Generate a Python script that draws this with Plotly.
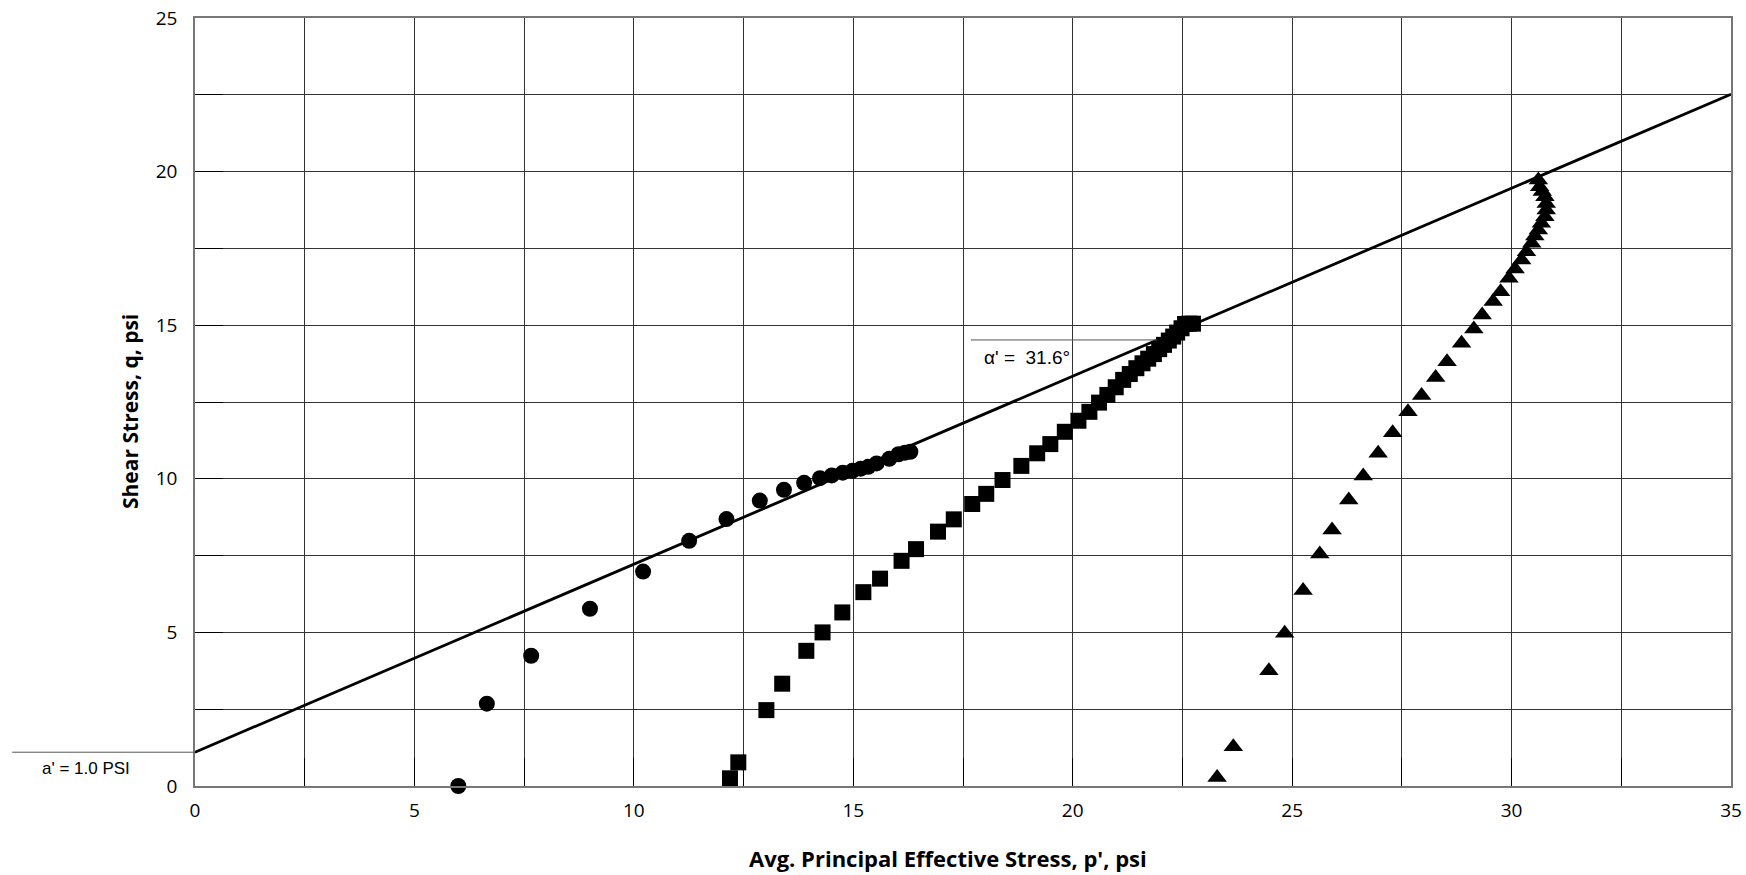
import plotly.graph_objects as go

# Series 1 (circles)
circ_p = [6.00, 6.65, 7.66, 9.00, 10.21, 11.26, 12.11, 12.87, 13.42, 13.88, 14.24, 14.51, 14.76,
          14.98, 15.17, 15.34, 15.53, 15.82, 16.03, 16.18, 16.30]
circ_q = [0.00, 2.68, 4.24, 5.77, 6.98, 7.98, 8.69, 9.29, 9.64, 9.87, 10.02, 10.11, 10.20,
          10.26, 10.33, 10.39, 10.50, 10.65, 10.80, 10.85, 10.88]

# Series 2 (squares)
sq_p = [12.19, 12.38, 13.02, 13.38, 13.93, 14.30, 14.75, 15.23, 15.61, 16.10, 16.43, 16.93, 17.29,
        17.71, 18.03, 18.40, 18.83, 19.19, 19.49, 19.82, 20.13, 20.38, 20.60, 20.79, 20.98, 21.15,
        21.30, 21.45, 21.59, 21.72, 21.85, 21.97, 22.08, 22.19, 22.29, 22.38, 22.48, 22.56, 22.65, 22.74]
sq_q = [0.25, 0.77, 2.47, 3.33, 4.40, 5.00, 5.65, 6.31, 6.75, 7.33, 7.71, 8.28, 8.68,
        9.18, 9.51, 9.96, 10.42, 10.83, 11.13, 11.53, 11.89, 12.18, 12.48, 12.73, 12.98, 13.22,
        13.41, 13.60, 13.76, 13.91, 14.06, 14.22, 14.36, 14.50, 14.63, 14.76, 14.90, 15.04, 15.05, 15.05]

# Series 3 (triangles)
tri_p = [23.29, 23.66, 24.47, 24.83, 25.25, 25.63, 25.91, 26.29, 26.62, 26.96, 27.29, 27.64, 27.95,
         28.27, 28.53, 28.86, 29.14, 29.33, 29.58, 29.75, 29.94, 30.08, 30.23, 30.34, 30.46, 30.53,
         30.61, 30.68, 30.76, 30.79, 30.79, 30.76, 30.70, 30.64, 30.61]
tri_q = [0.28, 1.28, 3.75, 4.97, 6.36, 7.55, 8.33, 9.31, 10.09, 10.83, 11.50, 12.18, 12.71,
         13.30, 13.81, 14.41, 14.88, 15.33, 15.77, 16.09, 16.53, 16.83, 17.12, 17.39, 17.67, 17.90,
         18.10, 18.32, 18.53, 18.75, 18.96, 19.18, 19.35, 19.51, 19.73]

# Failure envelope
fit_intercept = 1.1
fit_slope = 0.612
fit_p = [0, 35]
fit_q = [fit_intercept + fit_slope * p for p in fit_p]
alpha_label_q = 14.52

x_ticks = [i * 2.5 for i in range(15)]
y_ticks = [i * 2.5 for i in range(11)]
x_text = [str(int(v)) if v % 5 == 0 else "" for v in x_ticks]
y_text = [str(int(v)) if v % 5 == 0 else "" for v in y_ticks]

FONT = "'Open Sans', 'Noto Sans', sans-serif"
NARROW = "'Liberation Sans', Arial, sans-serif"

fig = go.Figure()
fig.add_trace(go.Scatter(x=fit_p, y=fit_q, mode="lines", line=dict(color="black", width=2.8),
                         showlegend=False, hoverinfo="skip"))
fig.add_trace(go.Scatter(x=circ_p, y=circ_q, mode="markers",
                         marker=dict(symbol="circle", size=16, color="black"), cliponaxis=False, showlegend=False))
fig.add_trace(go.Scatter(x=sq_p, y=sq_q, mode="markers",
                         marker=dict(symbol="square", size=16, color="black"), cliponaxis=False, showlegend=False))
fig.add_trace(go.Scatter(x=tri_p, y=tri_q, mode="markers",
                         marker=dict(symbol="triangle-up", size=17, color="black"), cliponaxis=False, showlegend=False))

axis_common = dict(showgrid=True, gridcolor="#333", gridwidth=1, zeroline=False,
                   showline=True, linecolor="#777", linewidth=1.5, mirror=True,
                   ticks="inside", ticklen=28, tickcolor="black", tickwidth=1,
                   tickfont=dict(family=FONT, size=19, color="black"), tickmode="array",
                   automargin=False)

fig.update_xaxes(range=[0, 35], tickvals=x_ticks, ticktext=x_text, ticklabelstandoff=6, **axis_common)
fig.update_yaxes(range=[0, 25], tickvals=y_ticks, ticktext=y_text, ticklabelstandoff=12, **axis_common)

fig.add_shape(type="line", xref="paper", yref="y", x0=-0.119, x1=0, y0=fit_intercept, y1=fit_intercept,
              line=dict(color="#555", width=1))
fig.add_shape(type="line", xref="x", yref="y", x0=17.68, x1=(alpha_label_q - fit_intercept) / fit_slope,
              y0=alpha_label_q, y1=alpha_label_q, line=dict(color="#555", width=1))

fig.add_annotation(text="a' = 1.0 PSI", xref="paper", yref="y", x=(86 - 195) / 1536, y=fit_intercept,
                   xanchor="center", yanchor="middle", yshift=-16, showarrow=False,
                   font=dict(family=NARROW, size=17, color="black"))
fig.add_annotation(text="α' =  31.6°", xref="x", yref="y", x=18.96, y=alpha_label_q,
                   xanchor="center", yanchor="middle", yshift=-18, showarrow=False,
                   font=dict(family=NARROW, size=19, color="black"))

fig.add_annotation(text="<b>Avg. Principal Effective Stress, p', psi</b>", xref="paper", yref="paper",
                   x=(948 - 195) / 1536, y=0, xanchor="center", yanchor="middle", yshift=-72, showarrow=False,
                   font=dict(family=FONT, size=22, color="black"))
fig.add_annotation(text="<b>Shear Stress, q, psi</b>", xref="paper", yref="paper", textangle=-90,
                   x=0, xshift=-65, y=(786 - 412) / 768, xanchor="center", yanchor="middle", showarrow=False,
                   font=dict(family=FONT, size=21, color="black"))

fig.update_layout(width=1746, height=875, margin=dict(l=195, r=15, t=18, b=89, autoexpand=False),
                  plot_bgcolor="white", paper_bgcolor="white")

fig.write_html("out.html")
